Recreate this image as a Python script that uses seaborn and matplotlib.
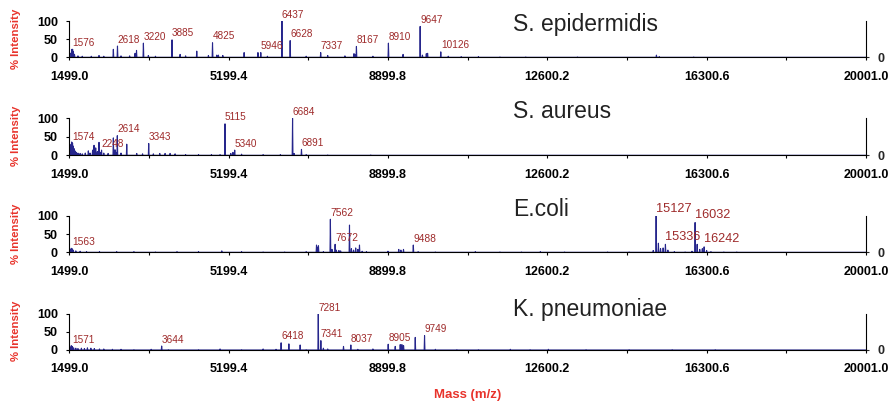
import numpy as np
import pandas as pd
import matplotlib
matplotlib.use("Agg")
import matplotlib.pyplot as plt
import matplotlib.transforms as mtransforms
import seaborn as sns

# ---------------- data ----------------
species = ["S. epidermidis", "S. aureus", "E.coli", "K. pneumoniae"]

x_ticks = [1499.0, 5199.4, 8899.8, 12600.2, 16300.6, 20001.0]
y_ticks = [0, 50, 100]

epi_mass = [1540, 1560, 1576, 1595, 1620, 1700, 1800, 2010, 2189, 2300, 2522, 2618, 2700,
            2900, 3026, 3060, 3220, 3335, 3500, 3885, 4072, 4200, 4459, 4730, 4825, 4924,
            4962, 5064, 5559, 5880, 5946, 6100, 6437, 6628, 7000, 7337, 7500, 7900, 8110,
            8130, 8167, 8550, 8910, 9250, 9647, 9700, 9790, 9820, 10126, 10300, 10600,
            11000, 11500, 12100, 13300, 15134, 15200, 16000]
epi_int = [12, 22, 22, 15, 8, 4, 3, 3, 5, 3, 22, 31, 4,
           4, 11, 19, 39, 5, 3, 48, 8, 4, 17, 5, 40, 6,
           6, 5, 13, 13, 13, 3, 100, 46, 3, 13, 5, 4, 10,
           8, 30, 3, 39, 8, 85, 6, 10, 11, 15, 3, 2,
           2, 1, 1, 1, 6, 2, 1]
epi_labels = [1576, 2618, 3220, 3885, 4825, 5946, 6437, 6628, 7337, 8167, 8910, 9647, 10126]

aur_mass = [1520, 1540, 1555, 1574, 1590, 1610, 1630, 1660, 1700, 1750, 1800, 1870, 1941,
            1980, 2040, 2073, 2112, 2150, 2189, 2220, 2248, 2300, 2400, 2522, 2561, 2580,
            2614, 2700, 2833, 3065, 3200, 3343, 3451, 3600, 3723, 3839, 3956, 4200, 4500,
            4800, 5000, 5115, 5250, 5300, 5340, 5500, 6000, 6400, 6684, 6720, 6891, 7000,
            7500, 8500]
aur_int = [10, 30, 36, 33, 25, 18, 12, 8, 6, 5, 4, 6, 12,
           6, 14, 27, 20, 10, 35, 8, 14, 6, 5, 47, 15, 8,
           53, 6, 30, 5, 4, 32, 4, 5, 5, 5, 4, 2, 2,
           2, 2, 85, 5, 8, 14, 3, 2, 2, 100, 5, 16, 2,
           1, 1]
aur_labels = [1574, 2248, 2614, 3343, 5115, 5340, 6684, 6891]

eco_mass = [1520, 1545, 1563, 1590, 1650, 1750, 1900, 2200, 2600, 3000, 3500, 4000, 4500,
            5040, 5500, 6000, 6500, 7000, 7240, 7260, 7285, 7400, 7562, 7600, 7672, 7700,
            7760, 7800, 8006, 8050, 8100, 8150, 8200, 8238, 8300, 8400, 8900, 9150, 9200,
            9260, 9488, 9600, 10000, 10928, 11500, 12000, 12438, 13000, 14000, 14500,
            15060, 15127, 15180, 15230, 15290, 15343, 15400, 15550, 15800, 15960, 16032,
            16080, 16140, 16200, 16242, 16300, 16400, 16700, 17000]
eco_int = [8, 11, 10, 6, 4, 3, 2, 2, 2, 2, 1, 2, 2,
           4, 2, 1, 1, 2, 20, 14, 18, 2, 91, 8, 22, 6,
           5, 4, 75, 10, 6, 12, 8, 20, 3, 2, 3, 8, 6,
           8, 20, 2, 1, 2, 1, 1, 2, 1, 1, 1,
           5, 100, 25, 10, 12, 22, 6, 2, 1, 3, 82,
           22, 8, 10, 15, 5, 2, 1, 1]
eco_labels = [1563, 7562, 7672, 9488, 15127, 15336, 16032, 16242]
eco_label_mass = {15336: 15343}

kpn_mass = [1520, 1545, 1571, 1600, 1650, 1700, 1780, 1850, 1920, 2000, 2080, 2200, 2300,
            2500, 2700, 3000, 3400, 3644, 3800, 4500, 5000, 5500, 6000, 6300, 6418, 6598,
            6860, 7000, 7281, 7341, 7400, 7500, 7867, 8037, 8200, 8550, 8905, 9068, 9184,
            9223, 9262, 9533, 9749, 10000, 10500, 11000, 11741, 12200, 12625, 13500,
            14500, 15500, 16500]
kpn_int = [8, 12, 10, 6, 5, 4, 5, 4, 6, 5, 4, 3, 3,
           2, 2, 1, 2, 11, 1, 1, 3, 1, 3, 2, 20, 17,
           14, 1, 100, 26, 5, 3, 10, 14, 2, 3, 16, 10, 15,
           15, 12, 35, 40, 2, 1, 1, 2, 1, 2, 1,
           1, 1, 1]
kpn_labels = [1571, 3644, 6418, 7281, 7341, 8037, 8905, 9749]

panels = [
    (epi_mass, epi_int, epi_labels, {}),
    (aur_mass, aur_int, aur_labels, {}),
    (eco_mass, eco_int, eco_labels, eco_label_mass),
    (kpn_mass, kpn_int, kpn_labels, {}),
]

# ---------------- style ----------------
sns.set_style("white")
plt.rcParams["font.family"] = ["Liberation Sans", "DejaVu Sans"]

LINE = "#26268c"
LABEL = "#9e2a2a"
RED = "#e8332b"

fig = plt.figure(figsize=(8.94, 4.05), dpi=100)

ax_left = 69.3 / 894
ax_width = (866 - 69.3) / 894
tops_px = [21.0, 118.3, 216.0, 314.0]
bots_px = [57.3, 155.3, 252.3, 350.0]
title_y = [0.90, 1.18, 1.19, 1.12]
label_sizes = [7.2, 7.2, 7.4, 7.2]
TL = 2.2  # tick length (pt)

for i, (mass, inten, labels, lab_map) in enumerate(panels):
    b = 1 - bots_px[i] / 405
    h = (bots_px[i] - tops_px[i]) / 405
    ax = fig.add_axes([ax_left, b, ax_width, h])

    # build a stick spectrum table from the peak lists
    w = 9.0
    xs, ys = [x_ticks[0]], [0.0]
    for m, v in zip(mass, inten):
        xs += [m - w, m, m + w]
        ys += [0.0, v, 0.0]
    xs.append(x_ticks[-1]); ys.append(0.0)
    df = pd.DataFrame({"mass": xs, "intensity": ys})
    sns.lineplot(data=df, x="mass", y="intensity", ax=ax, sort=False,
                 estimator=None, color=LINE, lw=0.8)

    ax.set_xlim(x_ticks[0], x_ticks[-1])
    ax.set_ylim(0, 100)
    ax.set_xlabel("")
    ax.set_ylabel("")
    ax.set_xticks(x_ticks)
    ax.set_xticklabels([f"{t:.1f}" for t in x_ticks], fontsize=9, fontweight="bold")
    ax.set_xticks([(a + c) / 2 for a, c in zip(x_ticks[:-1], x_ticks[1:])], minor=True)
    ax.set_yticks(y_ticks)
    ax.set_yticklabels([str(t) for t in y_ticks], fontsize=9, fontweight="bold")
    ax.tick_params(axis="x", which="both", direction="out", length=TL, width=0.8,
                   bottom=True, pad=7.5, colors="black")
    ax.tick_params(axis="y", which="both", direction="out", length=TL, width=0.8,
                   left=True, pad=6, colors="black")
    for s in ["top", "right"]:
        ax.spines[s].set_visible(False)
    for s in ["left", "bottom"]:
        ax.spines[s].set_color("black")
        ax.spines[s].set_linewidth(0.8)

    ax2 = ax.twinx()
    ax2.set_ylim(0, 100)
    ax2.set_yticks([0])
    ax2.set_yticklabels(["0"], fontsize=9, fontweight="bold")
    ax2.tick_params(axis="y", direction="out", length=TL, width=0.8, right=True, pad=6)
    for s in ["top", "left", "bottom"]:
        ax2.spines[s].set_visible(False)
    ax2.spines["right"].set_color("black")
    ax2.spines["right"].set_linewidth(0.8)

    # peak labels
    lookup = dict(zip(mass, inten))
    for lab in labels:
        m = lab_map.get(lab, lab)
        v = lookup[m]
        fs = 9.2 if (i == 2 and lab > 15000) else label_sizes[i]
        ax.annotate(str(lab), xy=(m, v), xytext=(0, 1), textcoords="offset points",
                    ha="left", va="bottom", fontsize=fs, color=LABEL,
                    annotation_clip=False)

    tr = mtransforms.blended_transform_factory(fig.transFigure, ax.transAxes)
    ax.text(513 / 894, title_y[i], species[i], transform=tr, ha="left", va="center",
            fontsize=16.5, color="#222222")
    ax.text(16 / 894, 0.52, "% Intensity", transform=tr, rotation=90, ha="center",
            va="center", fontsize=8.2, fontweight="bold", color=RED)

fig.text(467.5 / 894, 1 - 395 / 405, "Mass (m/z)", ha="center", va="center",
         fontsize=9.5, fontweight="bold", color=RED)

fig.savefig("out.png", dpi=100)
